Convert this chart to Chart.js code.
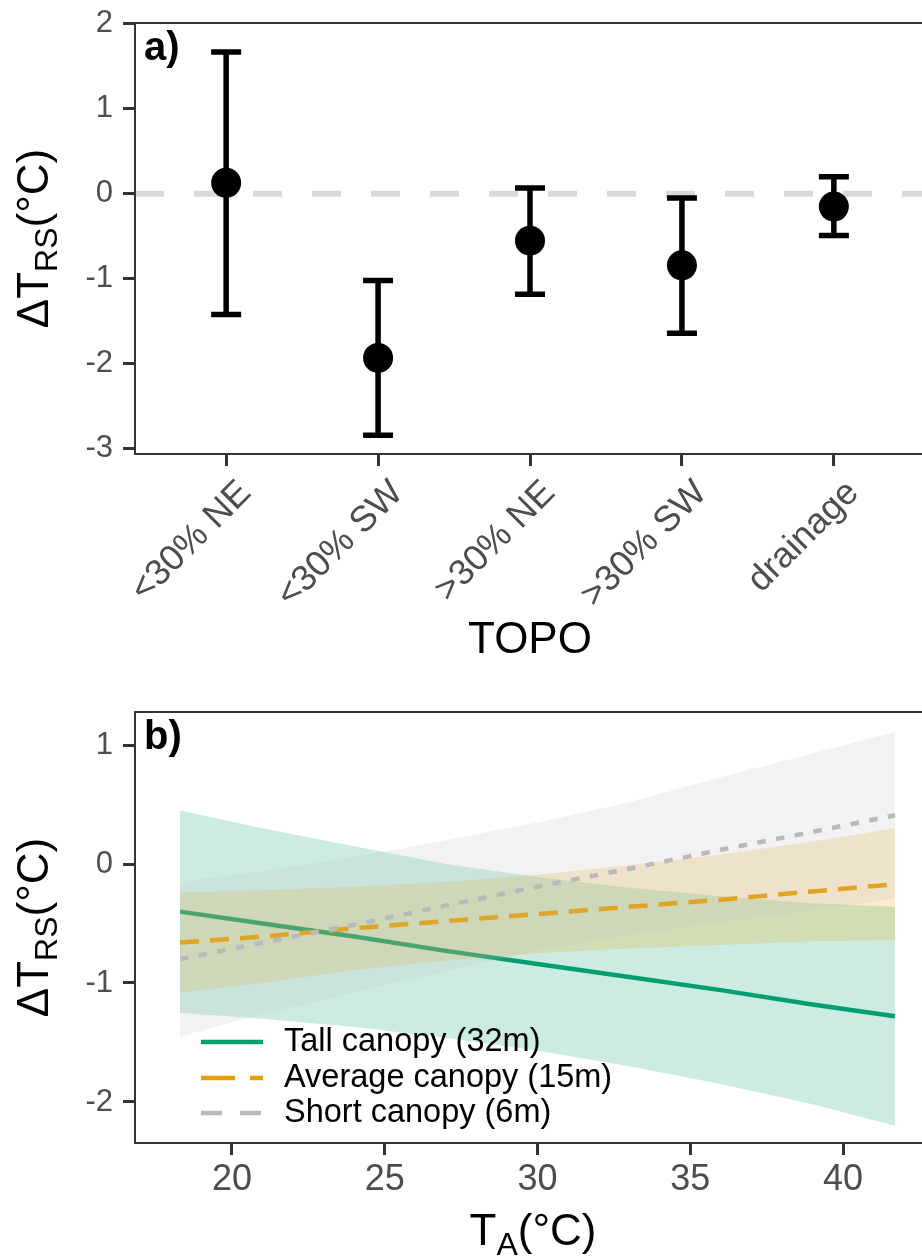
<!DOCTYPE html>
<html>
<head>
<meta charset="utf-8">
<script src="https://cdn.jsdelivr.net/npm/chart.js@4.4.1/dist/chart.umd.min.js"></script>
<style>
html, body { margin: 0; padding: 0; background: #fff; overflow: hidden; width: 922px; height: 1256px; }
#wrap { position: relative; width: 940px; height: 1256px; }
canvas { position: absolute; left: 0; }
#chartA { top: 0; }
#chartB { top: 680px; }
</style>
</head>
<body>
<div id="wrap">
  <canvas id="chartA" width="940" height="680"></canvas>
  <canvas id="chartB" width="940" height="576"></canvas>
</div>
<script>
// panel a) - effect of topography
const topoLabels = ["<30% NE", "<30% SW", ">30% NE", ">30% SW", "drainage"];
const topoMean = [0.13, -1.93, -0.55, -0.84, -0.15];
const topoLow = [-1.42, -2.84, -1.18, -1.64, -0.49];
const topoHigh = [1.67, -1.02, 0.07, -0.05, 0.20];
const yTicksA = [-3, -2, -1, 0, 1, 2];

// panel b) - effect of air temperature by canopy height
const airTemp = [18.3, 21, 24, 27, 30, 33, 36, 39, 41.7];
const tallFit = [-0.40, -0.50, -0.61, -0.73, -0.84, -0.95, -1.06, -1.18, -1.28];
const tallLow = [-1.25, -1.30, -1.37, -1.46, -1.57, -1.70, -1.85, -2.02, -2.20];
const tallHigh = [0.45, 0.30, 0.15, 0.0, -0.11, -0.20, -0.27, -0.33, -0.36];
const avgFit = [-0.66, -0.61, -0.54, -0.48, -0.42, -0.36, -0.30, -0.23, -0.17];
const avgLow = [-1.08, -1.00, -0.89, -0.81, -0.75, -0.71, -0.68, -0.65, -0.64];
const avgHigh = [-0.24, -0.22, -0.19, -0.15, -0.09, -0.01, 0.08, 0.19, 0.30];
const shortFit = [-0.80, -0.66, -0.51, -0.35, -0.19, -0.04, 0.12, 0.27, 0.41];
const shortLow = [-1.45, -1.26, -1.08, -0.90, -0.73, -0.60, -0.49, -0.39, -0.29];
const shortHigh = [-0.15, -0.06, 0.06, 0.20, 0.35, 0.52, 0.73, 0.93, 1.11];
const groupNames = ["Tall canopy (32m)", "Average canopy (15m)", "Short canopy (6m)"];
const xTicksB = [20, 25, 30, 35, 40];
const yTicksB = [-2, -1, 0, 1];

const FONT = '"Liberation Sans", Arial, Helvetica, sans-serif';
const font = (size, bold) => (bold ? 'bold ' : '') + size + 'px ' + FONT;
const TICK_GREY = '#4D4D4D';
const AXIS = '#333333';

Chart.defaults.font.family = FONT;
Chart.defaults.animation = false;

const xy = (xs, ys) => xs.map((x, i) => ({ x: x, y: ys[i] }));

function drawParts(ctx, parts, cx, y) {
    let total = 0;
    for (const p of parts) {
        ctx.font = font(p.size, p.bold);
        p.w = ctx.measureText(p.text).width;
        total += p.w;
    }
    let x = cx - total / 2;
    ctx.textAlign = 'left';
    ctx.textBaseline = 'alphabetic';
    for (const p of parts) {
        ctx.font = font(p.size, p.bold);
        ctx.fillText(p.text, x, y + (p.dy || 0));
        x += p.w;
    }
}

function yTitle(ctx, area) {
    ctx.save();
    ctx.fillStyle = '#000';
    ctx.translate(48, (area.top + area.bottom) / 2);
    ctx.rotate(-Math.PI / 2);
    drawParts(ctx, [
        { text: 'ΔT', size: 44 },
        { text: 'RS', size: 32, dy: 9 },
        { text: '(°C)', size: 44 }
    ], 0, 0);
    ctx.restore();
}

function frame(ctx, area) {
    ctx.save();
    ctx.strokeStyle = AXIS;
    ctx.lineWidth = 2;
    ctx.strokeRect(area.left, area.top, area.right - area.left, area.bottom - area.top);
    ctx.restore();
}

function panelLabel(ctx, area, txt) {
    ctx.save();
    ctx.fillStyle = '#000';
    ctx.font = font(40, true);
    ctx.textAlign = 'left';
    ctx.textBaseline = 'alphabetic';
    ctx.fillText(txt, 144, area.top + 37);
    ctx.restore();
}

function fixedAxis(size, isY) {
    return function (s) {
        if (isY) s.width = size; else s.height = size;
        s.paddingTop = 0; s.paddingBottom = 0; s.paddingLeft = 0; s.paddingRight = 0;
    };
}

// ---------- panel a ----------
const errorBars = {
    id: 'errorBars',
    beforeDatasetDraw(chart, args) {
        if (args.index !== 1) return;
        const { ctx, scales: { x, y } } = chart;
        ctx.save();
        ctx.strokeStyle = '#000';
        ctx.lineWidth = 5.5;
        ctx.lineCap = 'butt';
        topoMean.forEach((m, i) => {
            const px = x.getPixelForValue(i);
            const lo = y.getPixelForValue(topoLow[i]);
            const hi = y.getPixelForValue(topoHigh[i]);
            ctx.beginPath();
            ctx.moveTo(px, lo); ctx.lineTo(px, hi);
            ctx.moveTo(px - 15, lo); ctx.lineTo(px + 15, lo);
            ctx.moveTo(px - 15, hi); ctx.lineTo(px + 15, hi);
            ctx.stroke();
        });
        ctx.restore();
    }
};

const decorA = {
    id: 'decorA',
    afterDraw(chart) {
        const { ctx, chartArea: area, scales: { x } } = chart;
        frame(ctx, area);
        panelLabel(ctx, area, 'a)');
        yTitle(ctx, area);
        // rotated category labels
        ctx.save();
        ctx.fillStyle = TICK_GREY;
        ctx.font = font(36);
        ctx.textAlign = 'right';
        ctx.textBaseline = 'alphabetic';
        topoLabels.forEach((lab, i) => {
            ctx.save();
            ctx.translate(x.getPixelForValue(i) + 8, area.bottom + 22);
            ctx.rotate(-Math.PI / 4);
            ctx.fillText(lab, 0, 26);
            ctx.restore();
        });
        ctx.restore();
        ctx.save();
        ctx.fillStyle = '#000';
        drawParts(ctx, [{ text: 'TOPO', size: 44 }], (area.left + area.right) / 2, 653);
        ctx.restore();
    }
};

new Chart(document.getElementById('chartA'), {
    type: 'line',
    data: {
        datasets: [{
            data: [{ x: -0.6, y: 0 }, { x: 4.6, y: 0 }],
            borderColor: '#D9D9D9',
            borderWidth: 6,
            borderDash: [29, 30],
            pointRadius: 0,
            fill: false,
            order: 2
        }, {
            data: xy(topoMean.map((v, i) => i), topoMean),
            showLine: false,
            pointRadius: 15,
            pointBackgroundColor: '#000',
            pointBorderWidth: 0,
            order: 1
        }]
    },
    plugins: [errorBars, decorA],
    options: {
        responsive: false,
        layout: { padding: { left: 0, top: 23, right: 9, bottom: 0 } },
        plugins: { legend: { display: false }, tooltip: { enabled: false } },
        scales: {
            x: {
                type: 'linear', min: -0.6, max: 4.6,
                afterBuildTicks: s => { s.ticks = topoLabels.map((l, i) => ({ value: i })); },
                afterFit: fixedAxis(226, false),
                ticks: { display: false },
                grid: { drawOnChartArea: false, tickLength: 12, tickWidth: 3, tickColor: AXIS },
                border: { display: false }
            },
            y: {
                min: -3.06, max: 2.01,
                afterBuildTicks: s => { s.ticks = yTicksA.map(v => ({ value: v })); },
                afterFit: fixedAxis(135, true),
                ticks: { font: { size: 31 }, color: TICK_GREY, padding: 10 },
                grid: { drawOnChartArea: false, tickLength: 12, tickWidth: 3, tickColor: AXIS },
                border: { display: false }
            }
        }
    }
});

// ---------- panel b ----------
const groupStyle = [
    { rgb: '0,158,115', line: '#009E73', dash: [], keyDash: [] },
    { rgb: '230,159,0', line: '#E69F00', dash: [19, 11], keyDash: [34, 15] },
    { rgb: '190,190,190', line: '#B9B9B9', dash: [8.5, 10.5], keyDash: [21, 18] }
];
const groupData = [
    [tallFit, tallLow, tallHigh],
    [avgFit, avgLow, avgHigh],
    [shortFit, shortLow, shortHigh]
];

const datasetsB = [];
groupData.forEach((g, k) => {
    const st = groupStyle[k];
    datasetsB.push({
        data: xy(airTemp, g[2]), fill: '+1',
        backgroundColor: 'rgba(' + st.rgb + ',0.2)',
        borderColor: 'rgba(0,0,0,0)', borderWidth: 0, pointRadius: 0,
        order: 10 - 3 * k
    });
    datasetsB.push({
        data: xy(airTemp, g[1]), fill: false,
        borderColor: 'rgba(0,0,0,0)', borderWidth: 0, pointRadius: 0,
        order: 10 - 3 * k
    });
    datasetsB.push({
        data: xy(airTemp, g[0]), fill: false,
        borderColor: st.line, borderWidth: 4.5, borderDash: st.dash,
        borderCapStyle: 'butt', pointRadius: 0,
        order: 9 - 3 * k
    });
});

const decorB = {
    id: 'decorB',
    afterDraw(chart) {
        const { ctx, chartArea: area } = chart;
        frame(ctx, area);
        panelLabel(ctx, area, 'b)');
        yTitle(ctx, area);
        // legend inside the panel
        const rows = [362, 398, 433];
        ctx.save();
        groupNames.forEach((name, k) => {
            const st = groupStyle[k];
            ctx.strokeStyle = st.line;
            ctx.lineWidth = 4.5;
            ctx.setLineDash(st.keyDash);
            ctx.beginPath();
            ctx.moveTo(201, rows[k]);
            ctx.lineTo(263, rows[k]);
            ctx.stroke();
            ctx.setLineDash([]);
            ctx.fillStyle = '#000';
            ctx.font = font(32.5);
            ctx.textAlign = 'left';
            ctx.textBaseline = 'middle';
            ctx.fillText(name, 284, rows[k]);
        });
        ctx.restore();
        ctx.save();
        ctx.fillStyle = '#000';
        drawParts(ctx, [
            { text: 'T', size: 44 },
            { text: 'A', size: 32, dy: 10 },
            { text: '(°C)', size: 44 }
        ], (area.left + area.right) / 2, 565);
        ctx.restore();
    }
};

new Chart(document.getElementById('chartB'), {
    type: 'line',
    data: { datasets: datasetsB },
    plugins: [decorB],
    options: {
        responsive: false,
        layout: { padding: { left: 0, top: 32, right: 9, bottom: 0 } },
        plugins: { legend: { display: false }, tooltip: { enabled: false } },
        scales: {
            x: {
                type: 'linear', min: 16.825, max: 42.88,
                afterBuildTicks: s => { s.ticks = xTicksB.map(v => ({ value: v })); },
                afterFit: fixedAxis(113, false),
                ticks: { font: { size: 36 }, color: TICK_GREY, padding: 3, maxRotation: 0, autoSkip: false },
                grid: { drawOnChartArea: false, tickLength: 12, tickWidth: 3, tickColor: AXIS },
                border: { display: false }
            },
            y: {
                min: -2.345, max: 1.278,
                afterBuildTicks: s => { s.ticks = yTicksB.map(v => ({ value: v })); },
                afterFit: fixedAxis(135, true),
                ticks: { font: { size: 31 }, color: TICK_GREY, padding: 10 },
                grid: { drawOnChartArea: false, tickLength: 12, tickWidth: 3, tickColor: AXIS },
                border: { display: false }
            }
        }
    }
});
</script>
</body>
</html>
